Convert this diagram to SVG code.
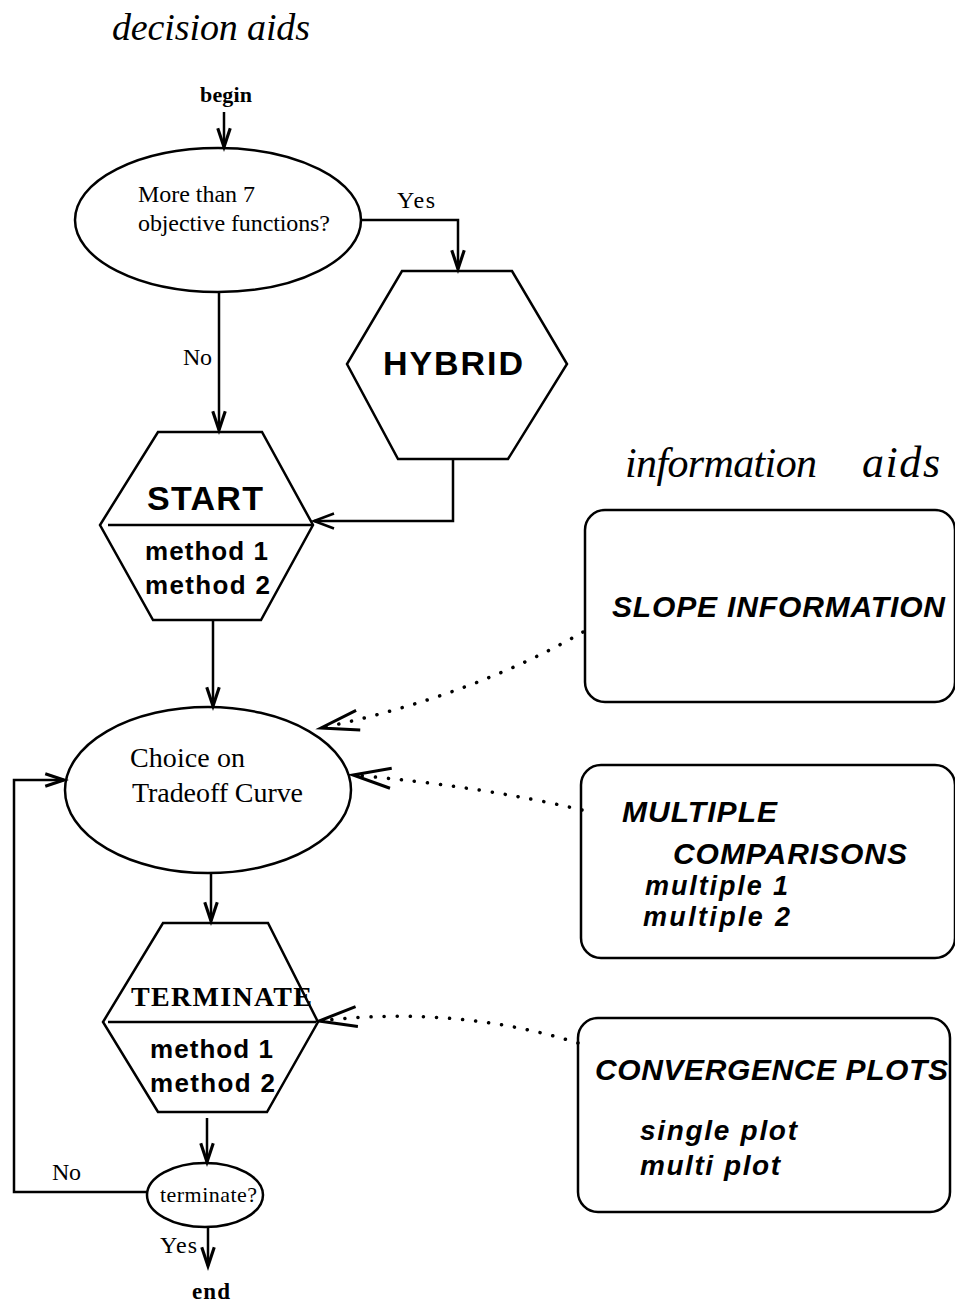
<svg xmlns="http://www.w3.org/2000/svg" width="955" height="1303" viewBox="0 0 955 1303">
<style>
.shape{fill:none;stroke:#000;stroke-width:2.5}
.line{fill:none;stroke:#000;stroke-width:2.5}
.dot{fill:none;stroke:#000;stroke-width:3.5;stroke-linecap:round;stroke-dasharray:0.1 13}
.serif{font-family:"Liberation Serif","Times New Roman",serif;fill:#000}
.title{font-family:"Liberation Serif","Times New Roman",serif;font-style:italic;fill:#000}
.sansb{font-family:"Liberation Sans",Arial,sans-serif;font-weight:bold;fill:#000}
.sansbi{font-family:"Liberation Sans",Arial,sans-serif;font-weight:bold;font-style:italic;fill:#000}
</style>
<defs>
<marker id="arr" markerUnits="userSpaceOnUse" markerWidth="30" markerHeight="30" viewBox="-20 -10 24 20" refX="0" refY="0" orient="auto">
<path d="M-15,-5 L0,0 L-15,5" fill="none" stroke="#000" stroke-width="2.5"/>
</marker>
<marker id="arrw" markerUnits="userSpaceOnUse" markerWidth="30" markerHeight="30" viewBox="-20 -10 24 20" refX="0" refY="0" orient="auto">
<path d="M-16,-6 L0,0 L-16,6" fill="none" stroke="#000" stroke-width="2"/>
</marker>
<marker id="arrd" markerUnits="userSpaceOnUse" markerWidth="50" markerHeight="30" viewBox="-42 -15 46 30" refX="0" refY="0" orient="auto">
<path d="M-38,-10 L0,0 L-38,10" fill="none" stroke="#000" stroke-width="3"/>
</marker>
</defs>

<text class="title" x="112" y="40" font-size="38" textLength="198">decision aids</text>
<text class="title" x="625" y="477" font-size="42" textLength="192">information</text>
<text class="title" x="862" y="477" font-size="44" textLength="78">aids</text>

<g id="connectors">
<text class="serif" x="200" y="102" font-size="22" font-weight="bold" textLength="52">begin</text>
<line class="line" x1="224" y1="112" x2="224" y2="147" marker-end="url(#arr)"/>
<polyline class="line" points="362,220 458,220 458,269" marker-end="url(#arr)"/>
<text class="serif" x="397" y="208" font-size="24" textLength="38">Yes</text>
<line class="line" x1="219" y1="293" x2="219" y2="430" marker-end="url(#arr)"/>
<text class="serif" x="183" y="365" font-size="24" textLength="29">No</text>
<polyline class="line" points="453,459 453,521 314,521" marker-end="url(#arrw)"/>
<line class="line" x1="213" y1="620" x2="213" y2="706" marker-end="url(#arr)"/>
<line class="line" x1="211" y1="873" x2="211" y2="921" marker-end="url(#arr)"/>
<line class="line" x1="207" y1="1118" x2="207" y2="1162" marker-end="url(#arr)"/>
<polyline class="line" points="147,1192 14,1192 14,780 64,780" marker-end="url(#arr)"/>
<text class="serif" x="52" y="1180" font-size="24" textLength="29">No</text>
<line class="line" x1="208" y1="1228" x2="208" y2="1266" marker-end="url(#arr)"/>
<text class="serif" x="160" y="1253" font-size="24" textLength="37">Yes</text>
<text class="serif" x="192" y="1299" font-size="23" font-weight="bold" textLength="38">end</text>
<path class="dot" d="M583,632 Q472,696 321,728" marker-end="url(#arrd)"/>
<path class="dot" d="M582,810 Q480,786 353,775" marker-end="url(#arrd)"/>
<path class="dot" d="M578,1043 Q455,1005 319,1021" marker-end="url(#arrd)"/>
</g>

<g id="node-objectives">
<ellipse class="shape" cx="218" cy="220" rx="143" ry="72"/>
<text class="serif" x="138" y="202" font-size="24" textLength="117">More than 7</text>
<text class="serif" x="138" y="231" font-size="24" textLength="192">objective functions?</text>
</g>

<g id="node-hybrid">
<polygon class="shape" points="402,271 512,271 567,364 508,459 398,459 347,364"/>
<text class="sansb" x="383" y="375" font-size="34" textLength="140">HYBRID</text>
</g>

<g id="node-start">
<polygon class="shape" points="158,432 262,432 313,525 261,620 153,620 100,525"/>
<line class="shape" x1="108" y1="525" x2="312" y2="525"/>
<text class="sansb" x="147" y="510" font-size="34" textLength="116">START</text>
<text class="sansb" x="145" y="560" font-size="26" textLength="123">method 1</text>
<text class="sansb" x="145" y="594" font-size="26" textLength="125">method 2</text>
</g>

<g id="node-choice">
<ellipse class="shape" cx="208" cy="790" rx="143" ry="83"/>
<text class="serif" x="130" y="767" font-size="28" textLength="115">Choice on</text>
<text class="serif" x="132" y="802" font-size="28" textLength="171">Tradeoff Curve</text>
</g>

<g id="node-terminate">
<polygon class="shape" points="163,923 268,923 318,1022 267,1112 158,1112 103,1022"/>
<line class="shape" x1="108" y1="1022" x2="316" y2="1022"/>
<text class="serif" x="131" y="1006" font-size="28" font-weight="bold" textLength="181">TERMINATE</text>
<text class="sansb" x="150" y="1058" font-size="26" textLength="123">method 1</text>
<text class="sansb" x="150" y="1092" font-size="26" textLength="125">method 2</text>
</g>

<g id="node-decide">
<ellipse class="shape" cx="205" cy="1195" rx="58" ry="32"/>
<text class="serif" x="160" y="1202" font-size="22" textLength="97">terminate?</text>
</g>

<g id="node-slope">
<rect class="shape" x="585" y="510" width="370" height="192" rx="20" ry="20"/>
<text class="sansbi" x="612" y="617" font-size="30" textLength="333">SLOPE INFORMATION</text>
</g>

<g id="node-multiple">
<rect class="shape" x="581" y="765" width="374" height="193" rx="20" ry="20"/>
<text class="sansbi" x="622" y="822" font-size="30" textLength="155">MULTIPLE</text>
<text class="sansbi" x="673" y="864" font-size="30" textLength="234">COMPARISONS</text>
<text class="sansbi" x="645" y="895" font-size="27" textLength="143">multiple 1</text>
<text class="sansbi" x="643" y="926" font-size="27" textLength="147">multiple 2</text>
</g>

<g id="node-convergence">
<rect class="shape" x="578" y="1018" width="372" height="194" rx="20" ry="20"/>
<text class="sansbi" x="595" y="1080" font-size="30" textLength="353">CONVERGENCE PLOTS</text>
<text class="sansbi" x="640" y="1140" font-size="28" textLength="157">single plot</text>
<text class="sansbi" x="640" y="1175" font-size="28" textLength="140">multi plot</text>
</g>
</svg>
